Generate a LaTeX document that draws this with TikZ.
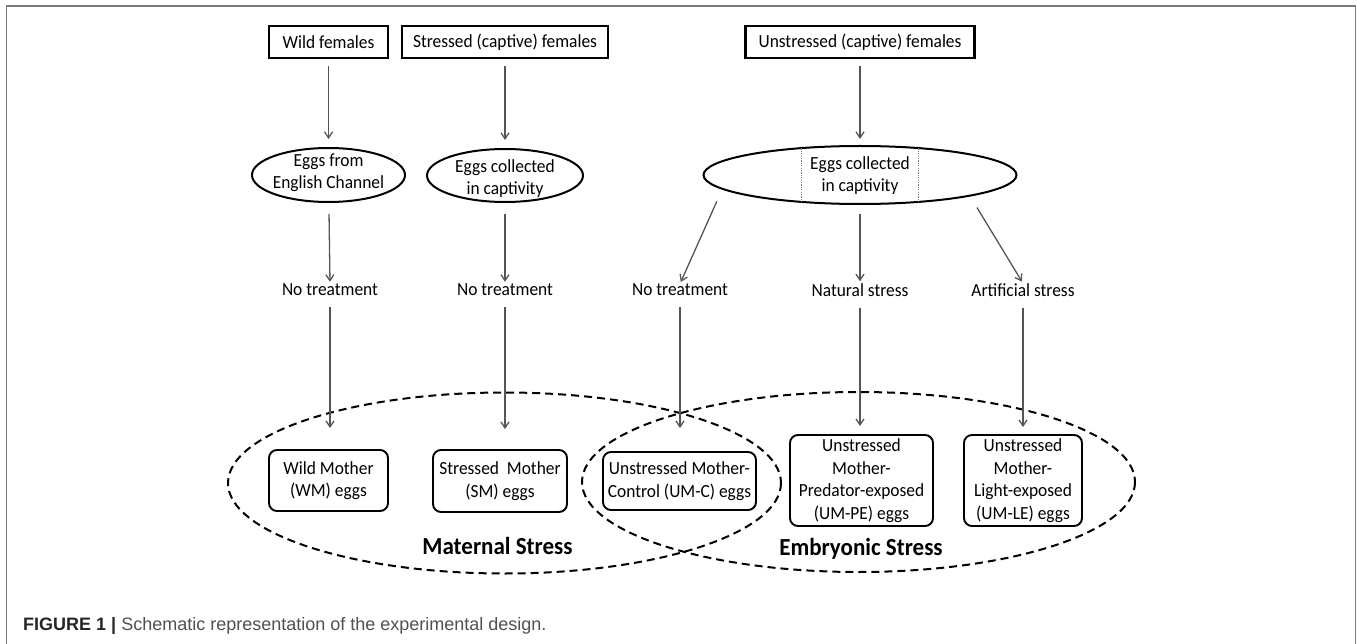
\documentclass[tikz,border=0pt]{standalone}
\usepackage{fontspec}
\setmainfont{Carlito}[FakeStretch=0.94]
\newfontfamily\capfont{Liberation Sans}
\usetikzlibrary{shapes.geometric,arrows.meta}
\definecolor{framegray}{HTML}{7A7A7A}
\definecolor{arrowgray}{HTML}{555555}
\definecolor{capgray}{HTML}{505050}
\tikzset{
  txt/.style={inner sep=0pt, align=center, font=\fontsize{18.5}{22.5}\selectfont},
  topbox/.style={txt, draw, line width=2.3pt, minimum height=32pt, inner xsep=2pt},
  eggshape/.style={ellipse, draw, line width=2pt, inner sep=0pt},
  eggbox/.style={txt, draw, line width=1.9pt, rounded corners=8pt, inner xsep=2pt},
  arr/.style={draw=arrowgray, line width=1.3pt, -{Straight Barb[length=6pt,width=8pt]}},
  stressline/.style={line width=2pt, dash pattern=on 8pt off 5pt},
  stresslbl/.style={inner sep=0pt, font=\fontsize{24.5}{28}\selectfont\bfseries}
}
\begin{document}
\begin{tikzpicture}[x=1pt,y=-1pt]
\useasboundingbox (0,0) rectangle (1357,644);
% Draw frame
\draw[framegray, line width=1.8pt] (6.5,644) -- (6.5,6) -- (1355.5,6) -- (1355.5,644);
% Draw the two stress regions
\draw[stressline] (504.5,483) ellipse [x radius=276.5, y radius=90.5];
\draw[stressline] (858.5,482) ellipse [x radius=276.5, y radius=90];
\node[stresslbl] (maternal) at (497.5,546) {Maternal Stress};
\node[stresslbl] (embryonic) at (861,549) {Embryonic Stress};
% Draw female groups
\node[topbox, minimum width=119pt] (wild) at (328.5,42) {Wild females};
\node[topbox, minimum width=206pt] (stressed) at (505,42) {Stressed (captive) females};
\node[topbox, minimum width=229pt] (unstressed) at (860,42) {Unstressed (captive) females};
% Draw egg sources
\node[eggshape, minimum width=153pt, minimum height=54pt] (egg1) at (328.5,175) {};
\node[txt] (egg1t) at (328.5,172.5) {Eggs from\\English Channel};
\node[eggshape, minimum width=156pt, minimum height=53pt] (egg2) at (505,175.5) {};
\node[txt] (egg2t) at (505,178.5) {Eggs collected\\in captivity};
\node[eggshape, minimum width=313pt, minimum height=58pt] (egg3) at (860,175) {};
\node[txt] (egg3t) at (860,175.5) {Eggs collected\\in captivity};
\draw[framegray, line width=0.8pt, dash pattern=on 1.2pt off 1.2pt] (801,148.5) -- (801,201.5);
\draw[framegray, line width=0.8pt, dash pattern=on 1.2pt off 1.2pt] (918,148.5) -- (918,201.5);
% Draw treatments
\node[txt] (nt1) at (330,290) {No treatment};
\node[txt] (nt2) at (505,290) {No treatment};
\node[txt] (nt3) at (680,290) {No treatment};
\node[txt] (nat) at (860,290) {Natural stress};
\node[txt] (art) at (1023,290) {Artificial stress};
% Draw egg groups
\node[eggbox, minimum width=119pt, minimum height=61pt] (wm) at (328.5,480.5) {Wild Mother\\(WM) eggs};
\node[eggbox, minimum width=134pt, minimum height=62pt] (sm) at (500,481) {Stressed~~Mother\\(SM) eggs};
\node[eggbox, minimum width=153pt, minimum height=58pt] (umc) at (679.5,481) {Unstressed Mother-\\Control (UM-C) eggs};
\node[eggbox, minimum width=143pt, minimum height=91pt] (umpe) at (861.5,480.5) {Unstressed\\Mother-\\Predator-exposed\\(UM-PE) eggs};
\node[eggbox, minimum width=118pt, minimum height=91pt] (umle) at (1023,480.5) {Unstressed\\Mother-\\Light-exposed\\(UM-LE) eggs};
% Draw arrows
\draw[arr, shorten <=7pt, shorten >=8pt] (wild) -- (wild |- egg1.north);
\draw[arr, shorten <=7pt, shorten >=8pt] (stressed) -- (stressed |- egg2.north);
\draw[arr, shorten <=7pt, shorten >=6pt] (unstressed) -- (unstressed |- egg3.north);
\draw[arr, shorten <=11pt, shorten >=2pt] (egg1) -- (nt1 |- nt1.north);
\draw[arr, shorten <=11pt, shorten >=2pt] (egg2) -- (egg2 |- nt2.north);
\draw[arr, shorten <=13pt, shorten >=2pt] (egg3.186) -- (nt3.north);
\draw[arr, shorten <=9pt, shorten >=2pt] (egg3) -- (egg3 |- nat.north);
\draw[arr, shorten <=13pt, shorten >=2pt] (egg3.-11) -- (art.north);
\draw[arr, shorten <=11pt, shorten >=21pt] (nt1.south) -- (nt1.south |- wm.north);
\draw[arr, shorten <=11pt, shorten >=20pt] (nt2.south) -- (nt2.south |- sm.north);
\draw[arr, shorten <=11pt, shorten >=23pt] (nt3.south) -- (nt3.south |- umc.north);
\draw[arr, shorten <=11pt, shorten >=8pt] (nat.south) -- (nat.south |- umpe.north);
\draw[arr, shorten <=11pt, shorten >=7pt] (art.south) -- (art.south |- umle.north);
% Caption
\node[anchor=base west, inner sep=0pt, font=\capfont\fontsize{18}{22}\selectfont] (caption) at (23,630)
  {\textcolor{black!85}{\textbf{FIGURE 1 |}} \textcolor{capgray}{Schematic representation of the experimental design.}};
\end{tikzpicture}
\end{document}
